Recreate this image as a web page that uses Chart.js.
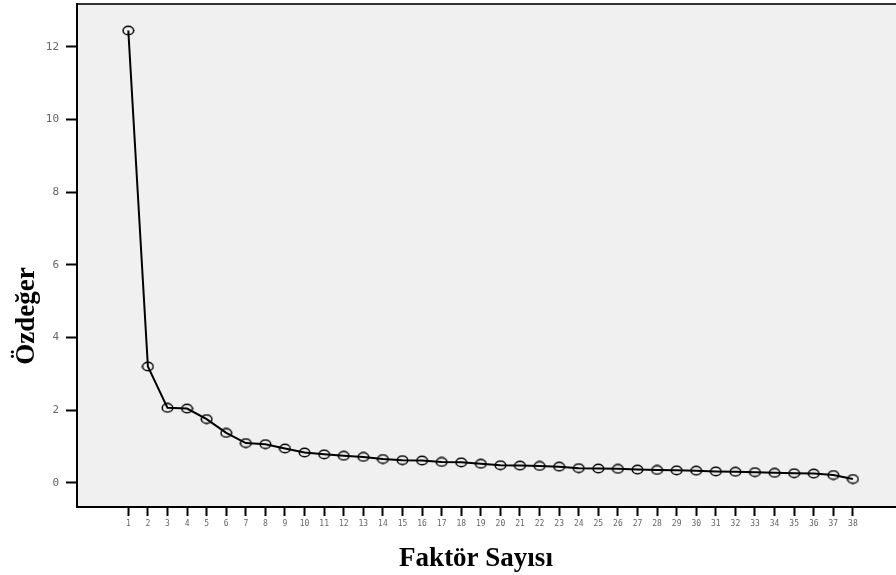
<!DOCTYPE html>
<html>
<head>
<meta charset="utf-8">
<script src="https://cdn.jsdelivr.net/npm/chart.js@4/dist/chart.umd.min.js"></script>
<style>
    html, body { margin: 0; padding: 0; background: #fff; }
    #wrap { width: 896px; height: 575px; position: relative; }
</style>
</head>
<body>
<div id="wrap"><canvas id="screePlot"></canvas></div>
<script>
// Scree plot data
const factors = [1, 2, 3, 4, 5, 6, 7, 8, 9, 10, 11, 12, 13, 14, 15, 16, 17, 18, 19,
    20, 21, 22, 23, 24, 25, 26, 27, 28, 29, 30, 31, 32, 33, 34, 35, 36, 37, 38];
const eigenvalues = [12.45, 3.20, 2.06, 2.04, 1.75, 1.37, 1.09, 1.06, 0.94, 0.83,
    0.78, 0.74, 0.71, 0.65, 0.62, 0.61, 0.57, 0.56, 0.52, 0.48, 0.47, 0.46, 0.44,
    0.40, 0.39, 0.38, 0.36, 0.35, 0.34, 0.33, 0.31, 0.30, 0.29, 0.27, 0.26, 0.25,
    0.21, 0.10];
const yTickValues = [0, 2, 4, 6, 8, 10, 12];

const xTitle = 'Faktör Sayısı';
const yTitle = 'Özdeğer';

// Ellipse marker like the SPSS output
function makeEllipseMarker() {
    const c = document.createElement('canvas');
    c.width = 13;
    c.height = 11;
    const g = c.getContext('2d');
    g.strokeStyle = '#000';
    g.lineWidth = 1.5;
    g.beginPath();
    g.ellipse(6.5, 5.5, 5.3, 4.3, 0, 0, Math.PI * 2);
    g.stroke();
    return c;
}

// Plot background, top border and axis titles
const frameAndTitles = {
    id: 'frameAndTitles',
    beforeDraw(chart) {
        const { ctx, chartArea: a } = chart;
        ctx.save();
        ctx.fillStyle = '#f0f0f0';
        ctx.fillRect(a.left, a.top, a.right - a.left, a.bottom - a.top);
        ctx.strokeStyle = '#333';
        ctx.lineWidth = 2;
        ctx.beginPath();
        ctx.moveTo(a.left, a.top);
        ctx.lineTo(a.right, a.top);
        ctx.stroke();
        ctx.restore();
    },
    afterDraw(chart) {
        const ctx = chart.ctx;
        ctx.save();
        ctx.fillStyle = '#000';
        ctx.font = 'bold 27px "Liberation Serif", "Times New Roman", serif';
        ctx.textAlign = 'center';
        ctx.textBaseline = 'alphabetic';
        ctx.fillText(xTitle, 476, 566);
        ctx.translate(34, 316);
        ctx.rotate(-Math.PI / 2);
        ctx.fillText(yTitle, 0, 0);
        ctx.restore();
    }
};

const ctx = document.getElementById('screePlot').getContext('2d');
const chart = new Chart(ctx, {
    type: 'line',
    data: {
        datasets: [{
            data: factors.map((f, i) => ({ x: f, y: eigenvalues[i] })),
            borderColor: '#000',
            borderWidth: 2,
            tension: 0,
            fill: false,
            pointStyle: makeEllipseMarker(),
            pointRadius: 5,
            pointHoverRadius: 5
        }]
    },
    options: {
        responsive: true,
        maintainAspectRatio: false,
        animation: false,
        layout: {
            autoPadding: false,
            padding: { top: 4, right: 0, left: 0, bottom: 0 }
        },
        scales: {
            x: {
                type: 'linear',
                min: -1.62,
                max: 40.2,
                afterBuildTicks: function(scale) {
                    scale.ticks = factors.map(v => ({ value: v }));
                },
                afterFit: function(scale) {
                    scale.height = 68;
                    scale.paddingLeft = 0;
                    scale.paddingRight = 0;
                },
                grid: {
                    drawOnChartArea: false,
                    tickLength: 9,
                    tickWidth: 2,
                    tickColor: '#000'
                },
                border: { color: '#000', width: 2 },
                ticks: {
                    autoSkip: false,
                    maxRotation: 0,
                    padding: 3,
                    color: '#666',
                    font: { family: '"DejaVu Sans Mono", monospace', size: 8 }
                }
            },
            y: {
                min: -0.67,
                max: 13.18,
                afterBuildTicks: function(scale) {
                    scale.ticks = yTickValues.map(v => ({ value: v }));
                },
                afterFit: function(scale) {
                    scale.width = 77;
                    scale.paddingTop = 0;
                    scale.paddingBottom = 0;
                },
                grid: {
                    drawOnChartArea: false,
                    tickLength: 11,
                    tickWidth: 2,
                    tickColor: '#000'
                },
                border: { color: '#000', width: 2 },
                ticks: {
                    padding: 7,
                    color: '#666',
                    font: { family: '"DejaVu Sans Mono", monospace', size: 11 }
                }
            }
        },
        plugins: {
            legend: { display: false },
            tooltip: { enabled: false }
        }
    },
    plugins: [frameAndTitles]
});
</script>
</body>
</html>
